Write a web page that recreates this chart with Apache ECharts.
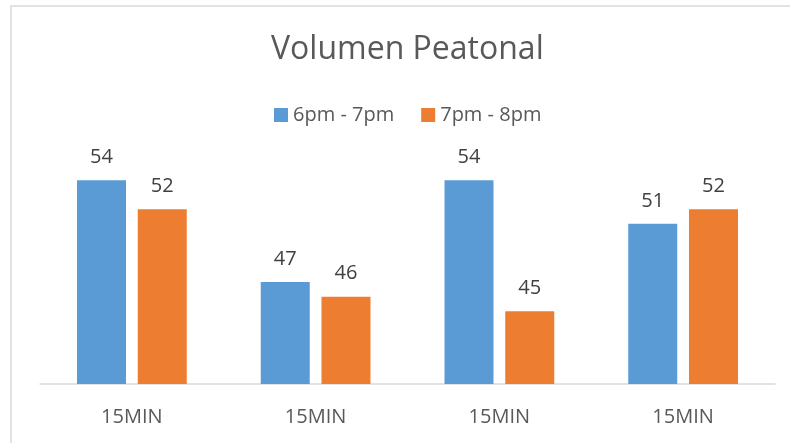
<!DOCTYPE html>
<html>
<head>
<meta charset="utf-8">
<script src="https://cdn.jsdelivr.net/npm/echarts@6/dist/echarts.min.js"></script>
<style>
  html, body { margin: 0; padding: 0; background: #fff; }
  #chart { width: 790px; height: 443px; }
</style>
</head>
<body>
<div id="chart"></div>
<script>
const categories = ['15MIN', '15MIN', '15MIN', '15MIN'];
const seriesNames = ['6pm - 7pm', '7pm - 8pm'];
const valuesEarly = [54, 47, 54, 51];
const valuesLate = [52, 46, 45, 52];

const FONT = '"Open Sans"';
const TEXT = '#595959';

const chart = echarts.init(document.getElementById('chart'));

const labelStyle = {
  show: true,
  position: 'top',
  distance: 13,
  fontFamily: FONT,
  fontSize: 20,
  color: '#404040'
};

chart.setOption({
  animation: false,
  graphic: [{
    type: 'rect',
    shape: { x: 11, y: 6, width: 800, height: 460 },
    style: { fill: 'none', stroke: '#D9D9D9', lineWidth: 1.5 },
    silent: true
  }],
  title: {
    text: 'Volumen Peatonal',
    left: 266,
    top: 29,
    textStyle: { fontFamily: FONT, fontSize: 32, fontWeight: 'normal', color: TEXT }
  },
  legend: {
    data: seriesNames,
    top: 100,
    left: 269,
    itemWidth: 14,
    itemHeight: 14,
    itemGap: 27,
    icon: 'rect',
    textStyle: { fontFamily: FONT, fontSize: 20, color: TEXT }
  },
  grid: { left: 40, right: 15, top: 151, bottom: 59 },
  xAxis: {
    type: 'category',
    data: categories,
    axisLine: { lineStyle: { color: '#D9D9D9', width: 1.5 } },
    axisTick: { show: false },
    axisLabel: { fontFamily: FONT, fontSize: 20, color: TEXT, margin: 23 }
  },
  yAxis: {
    type: 'value',
    min: 40,
    max: 56,
    show: false,
    splitLine: { show: false }
  },
  series: [
    {
      name: seriesNames[0],
      type: 'bar',
      data: valuesEarly,
      barWidth: 49,
      barGap: '24%',
      itemStyle: { color: '#5B9BD5' },
      label: labelStyle
    },
    {
      name: seriesNames[1],
      type: 'bar',
      data: valuesLate,
      barWidth: 49,
      itemStyle: { color: '#ED7D31' },
      label: labelStyle
    }
  ]
});
</script>
</body>
</html>
